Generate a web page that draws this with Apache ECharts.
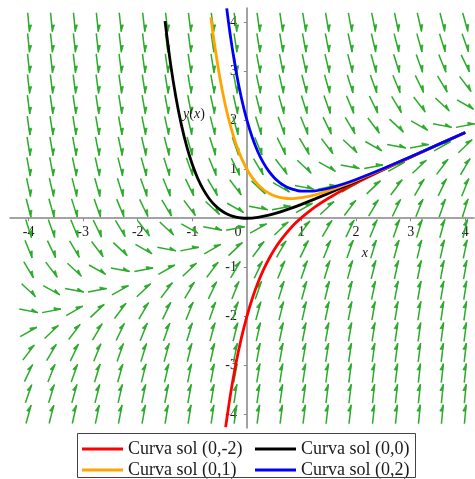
<!DOCTYPE html>
<html>
<head>
<meta charset="utf-8">
<title>Campo de direcciones y' = x - 2y</title>
<script src="https://cdn.jsdelivr.net/npm/echarts@6/dist/echarts.min.js"></script>
<style>
  html, body { margin: 0; padding: 0; background: #ffffff; }
  #chart { width: 475px; height: 479px; }
</style>
</head>
<body>
<div id="chart"></div>
<script>
// Direction field grid (20 x 20), rows listed from top (y = 4) to bottom (y = -4)
const fieldX = [-4.00, -3.58, -3.16, -2.74, -2.32, -1.89, -1.47, -1.05, -0.63, -0.21,
                 0.21,  0.63,  1.05,  1.47,  1.89,  2.32,  2.74,  3.16,  3.58,  4.00];
const fieldY = [ 4.00,  3.58,  3.16,  2.74,  2.32,  1.89,  1.47,  1.05,  0.63,  0.21,
                -0.21, -0.63, -1.05, -1.47, -1.89, -2.32, -2.74, -3.16, -3.58, -4.00];
// slope dy/dx at each grid node, one row per fieldY entry
const fieldSlopes = [
  [-12.00,-11.58,-11.16,-10.74,-10.32,-9.89,-9.47,-9.05,-8.63,-8.21,-7.79,-7.37,-6.95,-6.53,-6.11,-5.68,-5.26,-4.84,-4.42,-4.00],
  [-11.16,-10.74,-10.32,-9.89,-9.47,-9.05,-8.63,-8.21,-7.79,-7.37,-6.95,-6.53,-6.11,-5.68,-5.26,-4.84,-4.42,-4.00,-3.58,-3.16],
  [-10.32,-9.89,-9.47,-9.05,-8.63,-8.21,-7.79,-7.37,-6.95,-6.53,-6.11,-5.68,-5.26,-4.84,-4.42,-4.00,-3.58,-3.16,-2.74,-2.32],
  [-9.47,-9.05,-8.63,-8.21,-7.79,-7.37,-6.95,-6.53,-6.11,-5.68,-5.26,-4.84,-4.42,-4.00,-3.58,-3.16,-2.74,-2.32,-1.89,-1.47],
  [-8.63,-8.21,-7.79,-7.37,-6.95,-6.53,-6.11,-5.68,-5.26,-4.84,-4.42,-4.00,-3.58,-3.16,-2.74,-2.32,-1.89,-1.47,-1.05,-0.63],
  [-7.79,-7.37,-6.95,-6.53,-6.11,-5.68,-5.26,-4.84,-4.42,-4.00,-3.58,-3.16,-2.74,-2.32,-1.89,-1.47,-1.05,-0.63,-0.21,0.21],
  [-6.95,-6.53,-6.11,-5.68,-5.26,-4.84,-4.42,-4.00,-3.58,-3.16,-2.74,-2.32,-1.89,-1.47,-1.05,-0.63,-0.21,0.21,0.63,1.05],
  [-6.11,-5.68,-5.26,-4.84,-4.42,-4.00,-3.58,-3.16,-2.74,-2.32,-1.89,-1.47,-1.05,-0.63,-0.21,0.21,0.63,1.05,1.47,1.89],
  [-5.26,-4.84,-4.42,-4.00,-3.58,-3.16,-2.74,-2.32,-1.89,-1.47,-1.05,-0.63,-0.21,0.21,0.63,1.05,1.47,1.89,2.32,2.74],
  [-4.42,-4.00,-3.58,-3.16,-2.74,-2.32,-1.89,-1.47,-1.05,-0.63,-0.21,0.21,0.63,1.05,1.47,1.89,2.32,2.74,3.16,3.58],
  [-3.58,-3.16,-2.74,-2.32,-1.89,-1.47,-1.05,-0.63,-0.21,0.21,0.63,1.05,1.47,1.89,2.32,2.74,3.16,3.58,4.00,4.42],
  [-2.74,-2.32,-1.89,-1.47,-1.05,-0.63,-0.21,0.21,0.63,1.05,1.47,1.89,2.32,2.74,3.16,3.58,4.00,4.42,4.84,5.26],
  [-1.89,-1.47,-1.05,-0.63,-0.21,0.21,0.63,1.05,1.47,1.89,2.32,2.74,3.16,3.58,4.00,4.42,4.84,5.26,5.68,6.11],
  [-1.05,-0.63,-0.21,0.21,0.63,1.05,1.47,1.89,2.32,2.74,3.16,3.58,4.00,4.42,4.84,5.26,5.68,6.11,6.53,6.95],
  [-0.21,0.21,0.63,1.05,1.47,1.89,2.32,2.74,3.16,3.58,4.00,4.42,4.84,5.26,5.68,6.11,6.53,6.95,7.37,7.79],
  [0.63,1.05,1.47,1.89,2.32,2.74,3.16,3.58,4.00,4.42,4.84,5.26,5.68,6.11,6.53,6.95,7.37,7.79,8.21,8.63],
  [1.47,1.89,2.32,2.74,3.16,3.58,4.00,4.42,4.84,5.26,5.68,6.11,6.53,6.95,7.37,7.79,8.21,8.63,9.05,9.47],
  [2.32,2.74,3.16,3.58,4.00,4.42,4.84,5.26,5.68,6.11,6.53,6.95,7.37,7.79,8.21,8.63,9.05,9.47,9.89,10.32],
  [3.16,3.58,4.00,4.42,4.84,5.26,5.68,6.11,6.53,6.95,7.37,7.79,8.21,8.63,9.05,9.47,9.89,10.32,10.74,11.16],
  [4.00,4.42,4.84,5.26,5.68,6.11,6.53,6.95,7.37,7.79,8.21,8.63,9.05,9.47,9.89,10.32,10.74,11.16,11.58,12.00]
];

// Solution curves
const redX = [-0.39,-0.3,-0.2,-0.1,0,0.1,0.2,0.3,0.4,0.5,0.6,0.7,0.8,0.9,1.0,1.25,1.5,1.75,2.0,2.5,3.0,3.5,4.0];
const redY = [-4.263,-3.589,-2.961,-2.437,-2.0,-1.633,-1.323,-1.060,-0.836,-0.644,-0.477,-0.332,-0.203,-0.089,0.013,0.231,0.413,0.572,0.718,0.988,1.246,1.498,1.749];

const blackX = [-1.5,-1.4,-1.3,-1.2,-1.1,-1.0,-0.9,-0.8,-0.7,-0.6,-0.5,-0.4,-0.3,-0.2,-0.1,0,0.2,0.4,0.6,0.8,1.0,1.25,1.5,2.0,2.5,3.0,3.5,4.0];
const blackY = [4.021,3.161,2.466,1.906,1.456,1.097,0.812,0.588,0.414,0.280,0.180,0.106,0.056,0.023,0.005,0,0.018,0.062,0.125,0.200,0.284,0.396,0.512,0.755,1.002,1.251,1.500,1.750];

const orangeX = [-0.66,-0.6,-0.5,-0.4,-0.3,-0.2,-0.1,0,0.1,0.2,0.3,0.4,0.5,0.6,0.7,0.8,0.9,1.0,1.25,1.5,1.75,2.0,2.5,3.0,3.5,4.0];
const orangeY = [4.099,3.600,2.898,2.332,1.878,1.515,1.227,1.0,0.823,0.688,0.586,0.512,0.460,0.427,0.408,0.402,0.407,0.419,0.478,0.562,0.663,0.773,1.008,1.253,1.501,1.750];

const blueX = [-0.37,-0.3,-0.2,-0.1,0,0.1,0.2,0.3,0.4,0.5,0.6,0.7,0.8,0.9,1.0,1.25,1.5,1.75,2.0,2.5,3.0,3.5,4.0];
const blueY = [4.281,3.700,3.007,2.448,2.0,1.642,1.358,1.135,0.961,0.828,0.728,0.655,0.604,0.572,0.554,0.560,0.612,0.693,0.791,1.015,1.256,1.502,1.751];

const curveNames = ['Curva sol (0,-2)', 'Curva sol (0,0)', 'Curva sol (0,1)', 'Curva sol (0,2)'];
const xTickValues = [-4, -3, -2, -1, 0, 1, 2, 3, 4];
const yTickValues = [-4, -3, -2, -1, 1, 2, 3, 4];

const SERIF = '"Liberation Serif", "Times New Roman", serif';
const ARROW_COLOR = '#2bab2b';
const LEGEND_ICON = 'path://M0,0 L41,0 L41,3 L0,3 Z';

const GRID = { left: 10, top: 8, width: 464, height: 420 };
const X_MIN = -4.34, X_MAX = 4.16, Y_MIN = -4.28, Y_MAX = 4.29;
const LEGEND_BOX = { x: 77.5, y: 433.5, width: 338, height: 44 };

function pairs(xs, ys) {
  return xs.map((x, i) => [x, ys[i]]);
}

const fieldData = [];
fieldY.forEach((y, j) => {
  fieldX.forEach((x, i) => {
    fieldData.push([x, y, fieldSlopes[j][i]]);
  });
});

function renderArrow(params, api) {
  const x = api.value(0), y = api.value(1), s = api.value(2);
  const c = api.coord([x, y]);
  const h = 0.01;
  const c2 = api.coord([x + h, y + s * h]);
  let dx = c2[0] - c[0], dy = c2[1] - c[1];
  const n = Math.hypot(dx, dy);
  dx /= n; dy /= n;
  const half = 9.5;
  const tail = [c[0] - dx * half, c[1] - dy * half];
  const tip = [c[0] + dx * half, c[1] + dy * half];
  const hl = 6.5, hw = 2.8;
  const base = [tip[0] - dx * hl, tip[1] - dy * hl];
  const side = [base[0] + dy * hw, base[1] - dx * hw];
  return {
    type: 'group',
    children: [
      { type: 'line', shape: { x1: tail[0], y1: tail[1], x2: tip[0], y2: tip[1] },
        style: { stroke: ARROW_COLOR, lineWidth: 1.5 } },
      { type: 'polygon', shape: { points: [tip, base, side] },
        style: { fill: ARROW_COLOR, stroke: ARROW_COLOR, lineWidth: 0.8 } }
    ]
  };
}

function curve(name, xs, ys, color) {
  return {
    name: name,
    type: 'line',
    data: pairs(xs, ys),
    symbol: 'none',
    showSymbol: false,
    smooth: 0.3,
    clip: false,
    lineStyle: { color: color, width: 2.8 },
    itemStyle: { color: color },
    z: 5
  };
}

// axes cross at the origin: shift each axis from the grid edge onto the zero line
const yZeroFromBottom = GRID.height * (0 - Y_MIN) / (Y_MAX - Y_MIN);
const xZeroFromLeft = GRID.width * (0 - X_MIN) / (X_MAX - X_MIN);

const chart = echarts.init(document.getElementById('chart'), null, { renderer: 'canvas' });

chart.setOption({
  backgroundColor: '#ffffff',
  animation: false,
  grid: Object.assign({ containLabel: false, outerBoundsMode: 'none' }, GRID),
  xAxis: {
    type: 'value',
    min: X_MIN,
    max: X_MAX,
    position: 'bottom',
    offset: -yZeroFromBottom,
    splitLine: { show: false },
    axisLine: { onZero: false, lineStyle: { color: '#858585', width: 1.5 } },
    axisTick: { show: true, customValues: [-4, -3, -2, -1, 1, 2, 3, 4], length: 3, lineStyle: { color: '#858585' } },
    axisLabel: {
      customValues: xTickValues,
      margin: 7,
      fontFamily: SERIF,
      fontSize: 14,
      color: '#1a1a1a',
      formatter: v => (v === 0 ? '{z|0}' : String(v)),
      rich: { z: { fontFamily: SERIF, fontSize: 14, color: '#1a1a1a', padding: [0, 18, 0, 0] } }
    }
  },
  yAxis: {
    type: 'value',
    min: Y_MIN,
    max: Y_MAX,
    position: 'left',
    offset: -xZeroFromLeft,
    splitLine: { show: false },
    axisLine: { onZero: false, lineStyle: { color: '#858585', width: 1.5 } },
    axisTick: { show: true, customValues: yTickValues, length: 3, lineStyle: { color: '#858585' } },
    axisLabel: {
      customValues: yTickValues,
      margin: 10,
      fontFamily: SERIF,
      fontSize: 14,
      color: '#1a1a1a'
    }
  },
  legend: {
    data: curveNames.map(name => ({ name: name, icon: LEGEND_ICON })),
    left: 77,
    top: 433,
    width: 360,
    orient: 'horizontal',
    padding: [7, 5, 1, 5],
    itemGap: 3,
    itemWidth: 41,
    itemHeight: 12,
    borderWidth: 0,
    textStyle: { fontFamily: SERIF, fontSize: 18, color: '#1a1a1a', width: 124, lineHeight: 17, overflow: 'truncate' }
  },
  series: [
    {
      name: 'campo',
      type: 'custom',
      data: fieldData,
      renderItem: renderArrow,
      clip: false,
      silent: true,
      z: 2
    },
    curve(curveNames[0], redX, redY, '#ff0000'),
    curve(curveNames[1], blackX, blackY, '#000000'),
    curve(curveNames[2], orangeX, orangeY, '#ffa500'),
    curve(curveNames[3], blueX, blueY, '#0000ff')
  ]
});

// axis captions placed at data coordinates, plus the frame around the legend
const xCaption = chart.convertToPixel({ gridIndex: 0 }, [2.16, -0.71]);
const yCaption = chart.convertToPixel({ gridIndex: 0 }, [-0.97, 2.12]);
chart.setOption({
  graphic: [
    { type: 'rect', shape: LEGEND_BOX, z: 20, silent: true,
      style: { fill: 'none', stroke: '#444444', lineWidth: 1 } },
    { type: 'text', x: xCaption[0], y: xCaption[1], z: 10,
      style: { text: 'x', font: 'italic 14px ' + SERIF, fill: '#1a1a1a', align: 'center', verticalAlign: 'middle' } },
    { type: 'text', x: yCaption[0], y: yCaption[1], z: 10,
      style: {
        text: '{i|y}{n|(}{i|x}{n|)}',
        align: 'center', verticalAlign: 'middle',
        rich: {
          i: { font: 'italic 14px ' + SERIF, fill: '#1a1a1a' },
          n: { font: '14px ' + SERIF, fill: '#1a1a1a' }
        }
      } }
  ]
});
</script>
</body>
</html>
